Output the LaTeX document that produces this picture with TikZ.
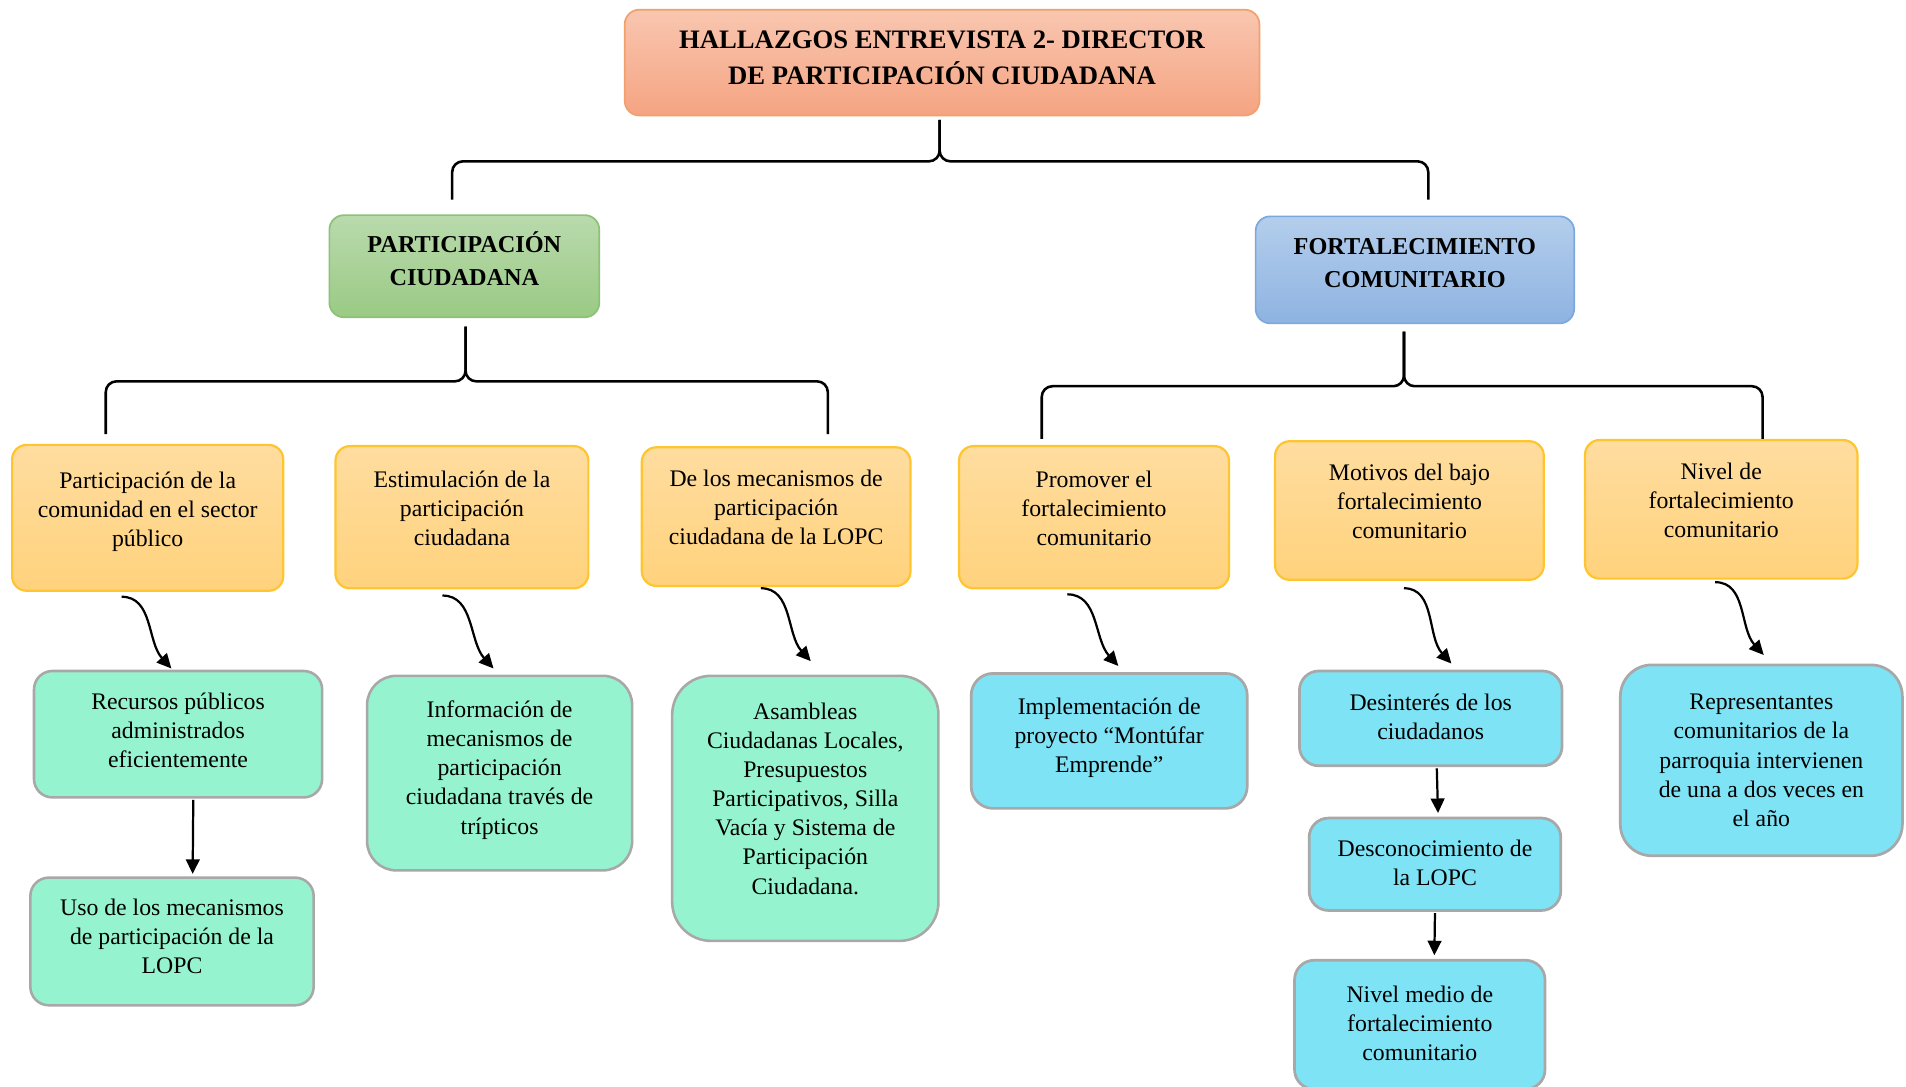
\documentclass[tikz,border=0pt]{standalone}
\usepackage{fontspec}
\setmainfont{Liberation Serif}
\usepackage{tikz}
\usetikzlibrary{arrows.meta}
\usepackage{xcolor}
\definecolor{headTop}{HTML}{F9C6B0}
\definecolor{headBot}{HTML}{F5A482}
\definecolor{headLine}{HTML}{F2A06C}
\definecolor{partTop}{HTML}{B9DAAD}
\definecolor{partBot}{HTML}{9ACA84}
\definecolor{partLine}{HTML}{8CC276}
\definecolor{fortTop}{HTML}{B4CEEC}
\definecolor{fortBot}{HTML}{8EB3E1}
\definecolor{fortLine}{HTML}{7CA8DD}
\definecolor{themeTop}{HTML}{FFDDA0}
\definecolor{themeBot}{HTML}{FFD27C}
\definecolor{themeLine}{HTML}{FFC530}
\definecolor{mintFill}{HTML}{95F4CF}
\definecolor{cyanFill}{HTML}{7EE3F5}
\definecolor{boxGray}{HTML}{A8A8A8}

\begin{document}
\begin{tikzpicture}[
  x=0.025cm, y=-0.025cm,
  every node/.style={rectangle, rounded corners=0.3cm, align=center, inner sep=2pt},
  headbox/.style={draw=headLine, line width=1pt, top color=headTop, bottom color=headBot,
    text depth=5.7pt, font=\fontsize{15.6}{21.3}\selectfont\bfseries},
  catbox/.style={line width=1pt, font=\fontsize{14.2}{19.2}\selectfont\bfseries},
  themebox/.style={draw=themeLine, line width=1.3pt, top color=themeTop, bottom color=themeBot,
    text depth=10.5pt, font=\fontsize{13.9}{17}\selectfont},
  mintbox/.style={draw=boxGray, line width=1.5pt, fill=mintFill, rounded corners=0.38cm,
    font=\fontsize{13.9}{17}\selectfont},
  cyanbox/.style={draw=boxGray, line width=1.6pt, fill=cyanFill, rounded corners=0.4cm,
    font=\fontsize{13.9}{17}\selectfont},
  brace/.style={draw, line width=1.5pt, rounded corners=0.22cm},
  flow/.style={-{Triangle[length=8.5pt,width=8pt]}, line width=1.3pt}
]
  \useasboundingbox (0,0) rectangle (1568,894);

  % --- Title ---
  \node[headbox, minimum width=13.05cm, minimum height=2.175cm] (title) at (775,51.5)
    {HALLAZGOS ENTREVISTA 2- DIRECTOR\\DE PARTICIPACIÓN CIUDADANA};

  % --- Categories ---
  \node[catbox, draw=partLine, top color=partTop, bottom color=partBot, text depth=9.2pt,
    minimum width=5.55cm, minimum height=2.1cm] (pc) at (382,219) {PARTICIPACIÓN\\CIUDADANA};
  \node[catbox, draw=fortLine, top color=fortTop, bottom color=fortBot, text depth=7.8pt,
    minimum width=6.55cm, minimum height=2.2cm] (fc) at (1164,222) {FORTALECIMIENTO\\COMUNITARIO};

  % --- Themes ---
  \node[themebox, minimum width=5.575cm, minimum height=3cm] (o1) at (121.5,426)
    {Participación de la\\comunidad en el sector\\público};
  \node[themebox, minimum width=5.2cm, minimum height=2.925cm] (o2) at (380,425.5)
    {Estimulación de la\\participación\\ciudadana};
  \node[themebox, minimum width=5.525cm, minimum height=2.85cm] (o3) at (638.5,425)
    {De los mecanismos de\\participación\\ciudadana de la LOPC};
  \node[themebox, minimum width=5.55cm, minimum height=2.925cm] (o4) at (900,425.5)
    {Promover el\\fortalecimiento\\comunitario};
  \node[themebox, minimum width=5.525cm, minimum height=2.85cm] (o5) at (1159.5,420)
    {Motivos del bajo\\fortalecimiento\\comunitario};
  \node[themebox, minimum width=5.6cm, minimum height=2.85cm] (o6) at (1416,419)
    {Nivel de\\fortalecimiento\\comunitario};

  % --- Findings: participacion ---
  \node[mintbox, text depth=4.3pt, minimum width=5.925cm, minimum height=2.6cm] (g1) at (146.5,604)
    {Recursos públicos\\administrados\\eficientemente};
  \node[mintbox, text depth=5.7pt, minimum width=5.825cm, minimum height=2.625cm] (g2) at (141.5,774.5)
    {Uso de los mecanismos\\de participación de la\\LOPC};
  \node[mintbox, text depth=6.5pt, rounded corners=0.6cm, minimum width=5.45cm, minimum height=4cm] (g3) at (411,636)
    {Información de\\mecanismos de\\participación\\ciudadana través de\\trípticos};
  \node[mintbox, text depth=11.4pt, rounded corners=0.8cm, minimum width=5.475cm, minimum height=5.45cm] (g4) at (662.5,665)
    {Asambleas\\Ciudadanas Locales,\\Presupuestos\\Participativos, Silla\\Vacía y Sistema de\\Participación\\Ciudadana.};

  % --- Findings: fortalecimiento ---
  \node[cyanbox, text depth=6.5pt, rounded corners=0.45cm, minimum width=5.675cm, minimum height=2.775cm] (c1) at (912.5,609.5)
    {Implementación de\\proyecto “Montúfar\\Emprende”};
  \node[cyanbox, text depth=2.1pt, minimum width=5.4cm, minimum height=1.95cm] (c2) at (1177,591)
    {Desinterés de los\\ciudadanos};
  \node[cyanbox, text depth=1.4pt, minimum width=5.175cm, minimum height=1.9cm] (c3) at (1180.5,711)
    {Desconocimiento de\\la LOPC};
  \node[cyanbox, text depth=2pt, minimum width=5.15cm, minimum height=2.65cm] (c4) at (1168,843)
    {Nivel medio de\\fortalecimiento\\comunitario};
  \node[cyanbox, rounded corners=0.65cm, minimum width=5.8cm, minimum height=3.925cm] (c5) at (1449,625.5)
    {Representantes\\comunitarios de la\\parroquia intervienen\\de una a dos veces en\\el año};

  % --- Braces ---
  \draw[brace] ([shift={(-10,-12)}]pc.north) |- ([shift={(-2,37)}]title.south) -- ([shift={(-2,3)}]title.south);
  \draw[brace] ([shift={(11,-13)}]fc.north) |- ([shift={(-2,37)}]title.south) -- ([shift={(-2,3)}]title.south);
  \draw[brace] ([shift={(-34.5,-8)}]o1.north) |- ([shift={(1,52)}]pc.south) -- ([shift={(1,7)}]pc.south);
  \draw[brace] ([shift={(42.5,-10)}]o3.north) |- ([shift={(1,52)}]pc.south) -- ([shift={(1,7)}]pc.south);
  \draw[brace] ([shift={(-43,-5)}]o4.north) |- ([shift={(-9,51)}]fc.south) -- ([shift={(-9,6)}]fc.south);
  \draw[brace] ([shift={(34,0)}]o6.north) |- ([shift={(-9,51)}]fc.south) -- ([shift={(-9,6)}]fc.south);

  % --- Curved arrows ---
  \draw[flow] ([shift={(-21.5,4)}]o1.south) .. controls +(26,0) and +(-20,-22) .. ([shift={(-5.5,-1)}]g1.north);
  \draw[flow] ([shift={(-16,5)}]o2.south) .. controls +(26,0) and +(-20,-22) .. ([shift={(-5,-5)}]g3.north);
  \draw[flow] ([shift={(-12.5,1)}]o3.south) .. controls +(26,0) and +(-20,-22) .. ([shift={(4.5,-11)}]g4.north);
  \draw[flow] ([shift={(-22,4)}]o4.south) .. controls +(26,0) and +(-20,-22) .. ([shift={(7.5,-5)}]c1.north);
  \draw[flow] ([shift={(-4.5,6)}]o5.south) .. controls +(26,0) and +(-20,-22) .. ([shift={(17,-5)}]c2.north);
  \draw[flow] ([shift={(-5,2)}]o6.south) .. controls +(26,0) and +(-20,-22) .. ([shift={(2,-7)}]c5.north);

  % --- Straight arrows ---
  \draw[flow] ([shift={(12.5,1)}]g1.south) -- ([shift={(17,-2)}]g2.north);
  \draw[flow] ([shift={(5,1)}]c2.south) -- ([shift={(2.5,-3)}]c3.north);
  \draw[flow] ([shift={(0,1)}]c3.south) -- ([shift={(12,-3)}]c4.north);
\end{tikzpicture}
\end{document}
